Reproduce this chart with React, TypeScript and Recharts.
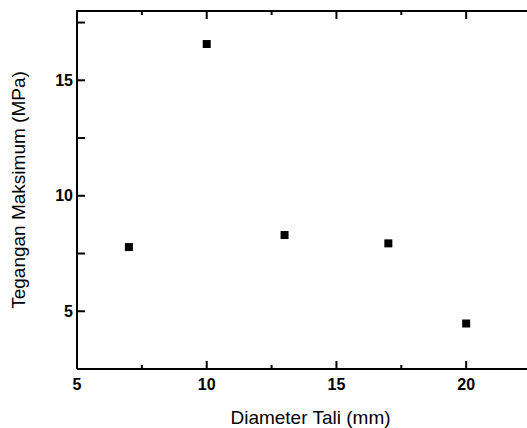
import React from 'react';
import { ScatterChart, Scatter, XAxis, YAxis, ZAxis } from 'recharts';

const diameters = [7, 10, 13, 17, 20];
const tegangan = [7.78, 16.57, 8.3, 7.94, 4.47];

const xTicks = [5, 7.5, 10, 12.5, 15, 17.5, 20, 22.5];
const yTicks = [2.5, 5, 7.5, 10, 12.5, 15, 17.5];

const data = diameters.map((d, i) => ({ x: d, y: tegangan[i] }));

const FONT = '"Liberation Sans", Arial, sans-serif';
const TOP = 11;

const isMajor = (v: number) => v % 5 === 0;

// bottom ticks point inward; the top frame line and its ticks are drawn here too
const BottomTick = (props: any) => {
  const { x, y, payload, index } = props;
  const major = isMajor(payload.value);
  const len = major ? 8 : 4;
  return (
    <g>
      {index === 0 && <line x1={x - 1} x2={x + 480} y1={TOP} y2={TOP} stroke="black" strokeWidth={2} />}
      <line x1={x} x2={x} y1={y} y2={y - len} stroke="black" strokeWidth={2} />
      <line x1={x} x2={x} y1={TOP} y2={TOP + len} stroke="black" strokeWidth={2} />
      {major && (
        <text x={x} y={y + 21} textAnchor="middle" fontSize={16} fontWeight="bold" fontFamily={FONT} fill="black">
          {'' + payload.value}
        </text>
      )}
    </g>
  );
};

export default function App() {
  return (
    <div style={{ position: 'absolute', left: 0, top: 0, width: 527, height: 428, overflow: 'hidden', background: 'white' }}>
      <ScatterChart width={544} height={428} margin={{ top: TOP, right: 0, left: 0, bottom: 0 }}>
        <XAxis
          dataKey="x"
          type="number"
          domain={[5, 23]}
          ticks={xTicks}
          height={59}
          tickSize={0}
          tickMargin={0}
          tickLine={false}
          axisLine={{ stroke: 'black', strokeWidth: 2 }}
          tick={BottomTick}
          interval={0}
          label={{ value: 'Diameter Tali (mm)', position: 'insideBottom', offset: 4, fill: 'black', fontSize: 19, fontFamily: FONT }}
        />
        <YAxis
          dataKey="y"
          type="number"
          domain={[2.5, 18]}
          ticks={yTicks}
          width={77}
          tickSize={-8}
          tickMargin={12}
          tickLine={{ stroke: 'black', strokeWidth: 2 }}
          axisLine={{ stroke: 'black', strokeWidth: 2 }}
          tick={{ fill: 'black', fontSize: 16, fontWeight: 'bold', fontFamily: FONT }}
          tickFormatter={(v: number) => (isMajor(v) ? String(v) : '')}
          interval={0}
          label={{ value: 'Tegangan Maksimum (MPa)', angle: -90, position: 'insideLeft', offset: 18, fill: 'black', fontSize: 19, fontFamily: FONT, style: { textAnchor: 'middle' } }}
        />
        <ZAxis range={[64, 64]} />
        <Scatter data={data} fill="black" shape="square" isAnimationActive={false} />
      </ScatterChart>
    </div>
  );
}
